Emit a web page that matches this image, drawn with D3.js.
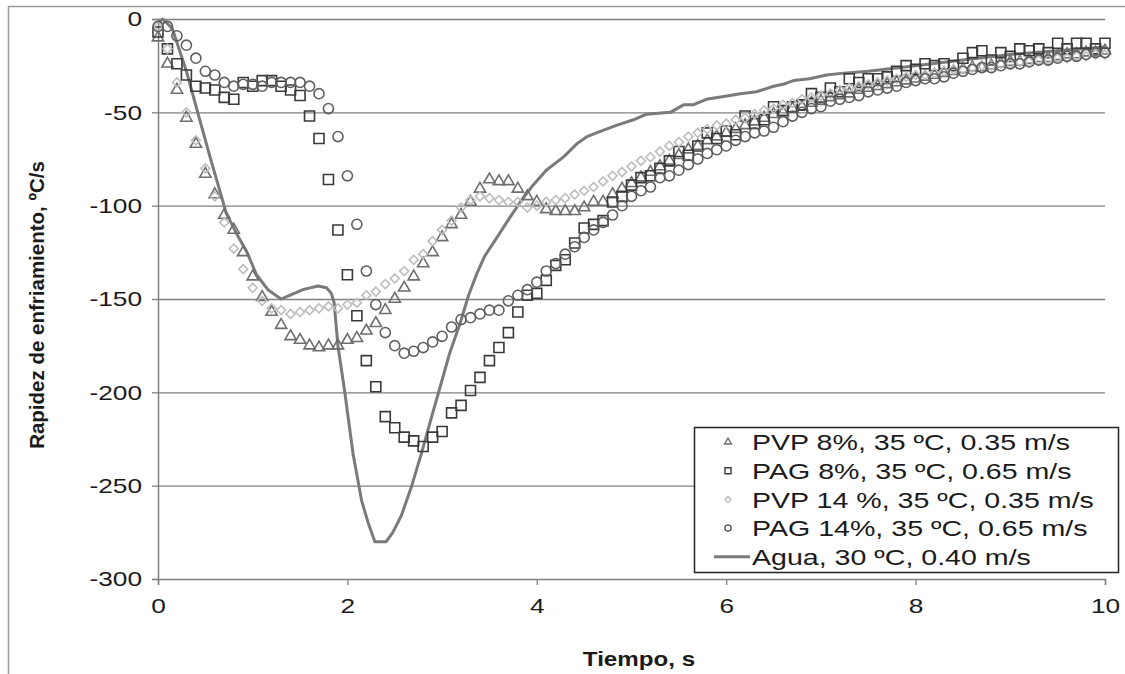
<!DOCTYPE html>
<html>
<head>
<meta charset="utf-8">
<script src="https://cdnjs.cloudflare.com/ajax/libs/d3/7.8.5/d3.min.js"></script>
<style>
  body { margin: 0; background: #fff; }
  text { font-family: "Liberation Sans", Arial, sans-serif; fill: #1a1a1a; }
</style>
</head>
<body>
<script>
const w = 1125
const h = 674

// sample times (s) shared by the four marker series
const timeS = [0, 0.1, 0.2, 0.3, 0.4, 0.5, 0.6, 0.7, 0.8, 0.9,
    1, 1.1, 1.2, 1.3, 1.4, 1.5, 1.6, 1.7, 1.8, 1.9,
    2, 2.1, 2.2, 2.3, 2.4, 2.5, 2.6, 2.7, 2.8, 2.9,
    3, 3.1, 3.2, 3.3, 3.4, 3.5, 3.6, 3.7, 3.8, 3.9,
    4, 4.1, 4.2, 4.3, 4.4, 4.5, 4.6, 4.7, 4.8, 4.9,
    5, 5.1, 5.2, 5.3, 5.4, 5.5, 5.6, 5.7, 5.8, 5.9,
    6, 6.1, 6.2, 6.3, 6.4, 6.5, 6.6, 6.7, 6.8, 6.9,
    7, 7.1, 7.2, 7.3, 7.4, 7.5, 7.6, 7.7, 7.8, 7.9,
    8, 8.1, 8.2, 8.3, 8.4, 8.5, 8.6, 8.7, 8.8, 8.9,
    9, 9.1, 9.2, 9.3, 9.4, 9.5, 9.6, 9.7, 9.8, 9.9, 10]

const pvp8 = [-10, -24, -38, -53, -67, -83, -94, -105, -113, -125,
    -138, -149, -157, -164, -170, -172, -175, -176, -175, -175,
    -172, -171, -167, -163, -156, -150, -144, -138, -131, -125,
    -117, -110, -105, -98, -91, -86, -87, -87, -91, -95,
    -98, -102, -103, -103, -103, -101, -98, -98, -94, -91,
    -88, -85, -82, -79, -76, -73, -70, -68, -65, -63,
    -61, -59, -57, -55, -53, -51, -50, -48, -47, -45,
    -44, -42, -41, -40, -38, -37, -36, -35, -34, -33,
    -32, -31, -30, -29, -28, -27, -26, -26, -25, -24,
    -23, -23, -22, -21, -21, -20, -19, -19, -18, -18, -17]

const pag8 = [-7, -16, -24, -30, -36, -37, -38, -42, -43, -34,
    -36, -33, -33, -36, -38, -41, -52, -64, -86, -113,
    -137, -159, -183, -197, -213, -219, -224, -226, -229, -224,
    -221, -211, -207, -199, -192, -183, -176, -168, -157, -148,
    -147, -140, -132, -129, -120, -112, -110, -108, -98, -95,
    -89, -85, -84, -80, -76, -71, -73, -68, -61, -64,
    -60, -62, -52, -56, -54, -47, -49, -47, -46, -40,
    -42, -37, -39, -32, -34, -32, -32, -31, -28, -25,
    -27, -24, -25, -24, -25, -21, -18, -17, -22, -18,
    -20, -16, -17, -16, -18, -13, -16, -13, -13, -16, -13]

const pvp14 = [-4, -16, -34, -50, -65, -80, -95, -109, -123, -134,
    -144, -151, -155, -156, -158, -157, -156, -155, -154, -155,
    -153, -152, -148, -146, -142, -139, -135, -129, -126, -119,
    -113, -108, -101, -97, -95, -96, -97, -98, -98, -101,
    -100, -98, -97, -96, -94, -92, -90, -87, -84, -82,
    -79, -76, -74, -71, -68, -66, -63, -61, -59, -57,
    -56, -54, -53, -51, -49, -48, -46, -45, -43, -42,
    -41, -40, -38, -37, -36, -35, -34, -33, -32, -31,
    -30, -30, -29, -28, -27, -27, -26, -25, -25, -24,
    -24, -23, -23, -22, -22, -21, -21, -20, -20, -19, -19]

const pag14 = [-4, -4, -9, -14, -21, -28, -30, -34, -36, -35,
    -35, -36, -34, -34, -34, -34, -36, -40, -48, -63,
    -84, -110, -135, -153, -168, -175, -179, -178, -176, -173,
    -170, -165, -161, -160, -158, -156, -156, -151, -148, -145,
    -141, -135, -131, -126, -122, -117, -113, -109, -105, -100,
    -95, -92, -90, -85, -84, -81, -78, -75, -72, -70,
    -68, -65, -63, -61, -60, -58, -55, -52, -50, -48,
    -47, -44, -43, -42, -41, -39, -38, -37, -36, -34,
    -33, -32, -32, -31, -29, -28, -27, -26, -26, -25,
    -24, -24, -23, -22, -22, -21, -20, -20, -19, -18, -18]

// water curve, drawn as a line
const aguaT = [0, 0.05, 0.15, 0.3, 0.43, 0.55, 0.67, 0.72, 0.83, 0.94, 1.04, 1.16, 1.3, 1.39, 1.53, 1.69, 1.78, 1.83,
    1.86, 1.9, 1.97, 2.06, 2.15, 2.22, 2.29, 2.41, 2.48, 2.57, 2.68, 2.78, 2.89, 2.98, 3.08, 3.19, 3.28, 3.37, 3.45,
    3.58, 3.72, 3.84, 3.96, 4.1, 4.28, 4.42, 4.53, 4.63, 4.84, 5.02, 5.16, 5.41, 5.55, 5.65, 5.79, 6.04, 6.15, 6.32,
    6.5, 6.6, 6.71, 6.88, 7.06, 7.24, 7.5, 8, 8.5, 9, 9.5, 10]
const aguaV = [-2, 0, -5, -28, -52, -74, -95, -104, -115, -125, -137, -145, -150, -148, -145, -143, -144, -147,
    -152, -175, -199, -233, -258, -270, -280, -280, -275, -266, -250, -233, -213, -197, -179, -163, -148, -136, -127,
    -117, -106, -97, -89, -81, -74, -67, -63, -61, -57, -54, -51, -50, -46, -46, -43, -41, -40, -39,
    -36, -35, -33, -32, -30, -29, -28, -25, -22, -19, -17, -15]

const yTicks = [0, -50, -100, -150, -200, -250, -300]
const xTicks = [0, 2, 4, 6, 8, 10]

const legendNames = ['PVP 8%, 35 ºC, 0.35 m/s', 'PAG 8%, 35 ºC, 0.65 m/s',
    'PVP 14 %, 35 ºC, 0.35 m/s', 'PAG 14%, 35 ºC, 0.65 m/s', 'Agua, 30 ºC, 0.40 m/s']

// stretch text horizontally, the source picture is wider than it is tall
function stretch (sel, k) {
    sel.each(function () {
        const len = this.getComputedTextLength()
        d3.select(this).attr('textLength', len * k).attr('lengthAdjust', 'spacingAndGlyphs')
    })
}

const xScale = d3.scaleLinear().domain([0, 10]).range([158, 1105])
const yScale = d3.scaleLinear().domain([-300, 0]).range([579, 19])

const svg = d3.select('body').append('svg')
    .attr('width', w)
    .attr('height', h)

// outer frame
svg.append('rect')
    .attr('x', 8.5).attr('y', 6.5)
    .attr('width', w + 20).attr('height', h + 20)
    .attr('fill', 'none').attr('stroke', '#9a9a9a').attr('stroke-width', 1.5)

// horizontal gridlines
svg.append('g')
    .attr('transform', 'translate(158,0)')
    .call(d3.axisLeft(yScale).tickValues(yTicks.slice(0, 6)).tickSize(-(1105 - 158)).tickFormat(''))
    .call(g => g.select('.domain').remove())
    .call(g => g.selectAll('line').attr('stroke', '#808080').attr('stroke-width', 1.3))

const yAxis = svg.append('g')
    .attr('transform', 'translate(158,0)')
    .call(d3.axisLeft(yScale).tickValues(yTicks).tickSize(6).tickPadding(10).tickFormat(d3.format('d')))
yAxis.select('.domain').attr('stroke', '#808080').attr('stroke-width', 1.5)
yAxis.selectAll('line').attr('stroke', '#808080').attr('stroke-width', 1.3)
yAxis.selectAll('text').attr('font-size', 21).attr('fill', '#1a1a1a')
    .text(d => d === 0 ? '0' : '-' + Math.abs(d))
    .call(stretch, 1.25)

const xAxis = svg.append('g')
    .attr('transform', 'translate(0,579)')
    .call(d3.axisBottom(xScale).tickValues(xTicks).tickSize(6).tickPadding(13))
xAxis.select('.domain').attr('stroke', '#808080').attr('stroke-width', 1.5)
xAxis.selectAll('line').attr('stroke', '#808080').attr('stroke-width', 1.3)
xAxis.selectAll('text').attr('font-size', 21).attr('fill', '#1a1a1a')
    .call(stretch, 1.25)

// axis titles
svg.append('text')
    .attr('x', 639).attr('y', 666)
    .attr('text-anchor', 'middle')
    .attr('font-size', 21).attr('font-weight', 'bold')
    .text('Tiempo, s')
    .call(stretch, 1.15)

svg.append('text')
    .attr('transform', 'translate(44,305) rotate(-90)')
    .attr('text-anchor', 'middle')
    .attr('font-size', 20.5).attr('font-weight', 'bold')
    .text('Rapidez de enfriamiento, ºC/s')

// water line
const lineFun = d3.line()
    .x(d => xScale(d[0]))
    .y(d => yScale(d[1]))
    .curve(d3.curveLinear)

svg.append('path')
    .attr('d', lineFun(aguaT.map((t, i) => [t, aguaV[i]])))
    .attr('fill', 'none')
    .attr('stroke', '#7a7a7a')
    .attr('stroke-width', 3)
    .attr('stroke-linejoin', 'round')

// marker series
const series = [
    { values: pvp8, shape: d3.symbolTriangle, size: 55, stroke: '#6e6e6e', rot: 0, lsize: 20 },
    { values: pag8, shape: d3.symbolSquare, size: 100, stroke: '#3a3a3a', rot: 0, lsize: 36 },
    { values: pvp14, shape: d3.symbolSquare, size: 40, stroke: '#bdbdbd', rot: 45, lsize: 18 },
    { values: pag14, shape: d3.symbolCircle, size: 80, stroke: '#5e5e5e', rot: 0, lsize: 30 }
]

series.forEach(function (s) {
    svg.append('g').selectAll('path')
        .data(timeS.map((t, i) => [t, s.values[i]]))
        .enter()
        .append('path')
        .attr('d', d3.symbol().type(s.shape).size(s.size))
        .attr('transform', d => `translate(${xScale(d[0])},${yScale(d[1])}) rotate(${s.rot})`)
        .attr('fill', 'none')
        .attr('stroke', s.stroke)
        .attr('stroke-width', 1.6)
})

// legend
const legend = svg.append('g')
legend.append('rect')
    .attr('x', 694.5).attr('y', 427.5)
    .attr('width', 424).attr('height', 145)
    .attr('fill', '#fff').attr('stroke', '#222').attr('stroke-width', 1.5)

legendNames.forEach(function (name, i) {
    const cy = 442 + i * 28.7
    if (i < 4) {
        const s = series[i]
        legend.append('path')
            .attr('d', d3.symbol().type(s.shape).size(s.lsize))
            .attr('transform', `translate(728,${cy}) rotate(${s.rot})`)
            .attr('fill', 'none').attr('stroke', s.stroke).attr('stroke-width', 1.4)
    } else {
        legend.append('line')
            .attr('x1', 714).attr('x2', 750)
            .attr('y1', cy).attr('y2', cy)
            .attr('stroke', '#7a7a7a').attr('stroke-width', 3)
    }
    legend.append('text')
        .attr('x', 752).attr('y', cy).attr('dy', '0.36em')
        .attr('font-size', 22.5)
        .text(name)
        .call(stretch, 1.27)
})
</script>
</body>
</html>
